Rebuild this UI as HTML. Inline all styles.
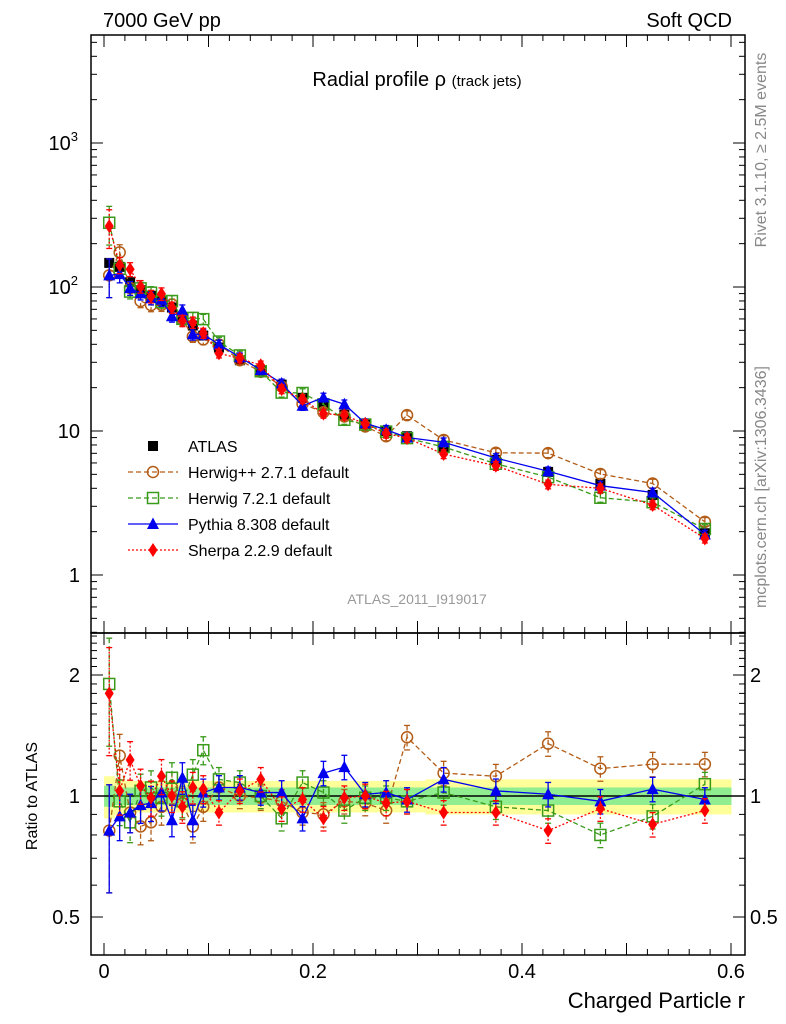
<!DOCTYPE html>
<html><head><meta charset="utf-8">
<style>
body{margin:0;background:#fff;}
svg{display:block;font-family:"Liberation Sans",sans-serif;}
</style></head>
<body>
<svg id="c" width="786" height="1024" xmlns="http://www.w3.org/2000/svg"></svg>
<script>
const binX=[0.005,0.015,0.025,0.035,0.045,0.055,0.065,0.075,0.085,0.095,0.11,0.13,0.15,0.17,0.19,0.21,0.23,0.25,0.27,0.29,0.325,0.375,0.425,0.475,0.525,0.575];
const atlas=[147,138,108,95,87,80,72,62,54,46,38,31,26,21,17,15,13,11.2,10,9.2,7.6,6.3,5.2,4.3,3.6,1.95];
const bandStat=[0.06,0.05,0.05,0.05,0.05,0.05,0.05,0.05,0.05,0.05,0.05,0.05,0.05,0.05,0.05,0.05,0.05,0.05,0.05,0.05,0.05,0.05,0.05,0.05,0.05,0.05];
const bandTot=[0.12,0.1,0.09,0.09,0.09,0.09,0.09,0.09,0.09,0.09,0.09,0.09,0.09,0.09,0.09,0.09,0.09,0.09,0.09,0.09,0.1,0.1,0.1,0.1,0.1,0.1];
const ratioHpp=[0.82,1.26,0.91,0.84,0.86,0.94,1.05,0.96,0.84,0.94,1.05,1.0,0.99,0.97,0.91,0.9,0.97,0.96,0.92,1.4,1.14,1.12,1.35,1.17,1.2,1.2];
const ratioH7=[1.9,0.97,0.86,1.03,1.05,0.99,1.11,0.97,1.13,1.3,1.1,1.08,1.0,0.88,1.08,1.02,0.92,0.99,0.99,0.97,1.02,0.94,0.92,0.8,0.89,1.07];
const ratioPy=[0.82,0.89,0.91,0.95,0.96,1.02,0.87,1.11,0.87,1.02,1.05,1.05,1.02,1.02,0.88,1.14,1.18,1.01,1.02,0.98,1.1,1.03,1.01,0.97,1.04,0.98];
const ratioSh=[1.8,1.03,1.23,1.06,0.99,1.12,1.0,0.94,1.05,1.04,0.91,1.03,1.1,0.93,0.98,0.88,0.99,1.0,0.96,0.97,0.91,0.91,0.82,0.93,0.85,0.92];
const errRel=[0.3,0.13,0.11,0.1,0.1,0.1,0.09,0.09,0.09,0.08,0.07,0.07,0.07,0.07,0.07,0.07,0.07,0.07,0.07,0.07,0.07,0.07,0.07,0.07,0.07,0.07];
const xTicks=[0,0.2,0.4,0.6];

const S=document.getElementById('c');
const NS='http://www.w3.org/2000/svg';
function el(t,a,p){const e=document.createElementNS(NS,t);for(const k in a)e.setAttribute(k,a[k]);(p||S).appendChild(e);return e;}
const L=91,R=745,T=35,M=633,B=955;
const X=v=>104+v*1045;
const Y=v=>287-144*Math.log10(v/100);
const YR=r=>796-121*Math.log2(r);

const defs=el('defs',{});
const c1=el('clipPath',{id:'cm'},defs);el('rect',{x:L,y:T,width:R-L,height:M-T},c1);
const c2=el('clipPath',{id:'cr'},defs);el('rect',{x:L,y:M,width:R-L,height:B-M},c2);

const gb=el('g',{'clip-path':'url(#cr)'});


function edges(i){const lo=i==0?0:(binX[i-1]+binX[i])/2;const hi=i==binX.length-1?0.6:(binX[i]+binX[i+1])/2;return [lo,hi];}
binX.forEach((x,i)=>{const [a,b]=edges(i);
 el('rect',{x:X(a),y:YR(1+bandTot[i]),width:X(b)-X(a)+0.5,height:YR(1-bandTot[i])-YR(1+bandTot[i]),fill:'#ffff99'},gb);});
binX.forEach((x,i)=>{const [a,b]=edges(i);
 el('rect',{x:X(a),y:YR(1+bandStat[i]),width:X(b)-X(a)+0.5,height:YR(1-bandStat[i])-YR(1+bandStat[i]),fill:'#90ee90'},gb);});
el('line',{x1:L,x2:R,y1:YR(1),y2:YR(1),stroke:'#000','stroke-width':1.5},gb);

const series=[
 {name:'herwigpp',r:ratioHpp,col:'#b35c16',dash:'5,3',m:'circle',lab:'Herwig++ 2.7.1 default'},
 {name:'herwig7',r:ratioH7,col:'#3a9a1a',dash:'5,3',m:'square',lab:'Herwig 7.2.1 default'},
 {name:'pythia',r:ratioPy,col:'#0000ee',dash:'',m:'tri',lab:'Pythia 8.308 default'},
 {name:'sherpa',r:ratioSh,col:'#ff0000',dash:'2,2',m:'diam',lab:'Sherpa 2.2.9 default'}];

function marker(g,m,x,y,col){
 if(m=='circle')el('circle',{cx:x,cy:y,r:5.5,fill:'none',stroke:col,'stroke-width':1.5},g);
 else if(m=='square')el('rect',{x:x-5.5,y:y-5.5,width:11,height:11,fill:'none',stroke:col,'stroke-width':1.5},g);
 else if(m=='tri')el('polygon',{points:`${x},${y-6.5} ${x-6},${y+5} ${x+6},${y+5}`,fill:col},g);
 else if(m=='diam')el('polygon',{points:`${x},${y-7} ${x-4.5},${y} ${x},${y+7} ${x+4.5},${y}`,fill:col},g);
 else if(m=='sq')el('rect',{x:x-5,y:y-5,width:10,height:10,fill:col},g);
}
function drawSeries(s,main){
 const g=el('g',{'clip-path':main?'url(#cm)':'url(#cr)'});
 
 
 const val=i=>main?atlas[i]*s.r[i]:s.r[i];
 const fy=main?Y:YR;
 const pts=binX.map((x,i)=>X(x)+','+fy(val(i))).join(' ');
 el('polyline',{points:pts,fill:'none',stroke:s.col,'stroke-width':1.3,'stroke-dasharray':s.dash},g);
 binX.forEach((x,i)=>{const v=val(i),e=errRel[i]*v;const px=X(x);
  el('line',{x1:px,x2:px,y1:fy(v+e),y2:fy(Math.max(v-e,0.01)),stroke:s.col,'stroke-width':1.3,'stroke-dasharray':s.dash},g);
  el('line',{x1:px-3,x2:px+3,y1:fy(v+e),y2:fy(v+e),stroke:s.col,'stroke-width':1.3},g);
  el('line',{x1:px-3,x2:px+3,y1:fy(Math.max(v-e,0.01)),y2:fy(Math.max(v-e,0.01)),stroke:s.col,'stroke-width':1.3},g);
  marker(g,s.m,px,fy(v),s.col);});
}
const ga=el('g',{'clip-path':'url(#cm)'});


binX.forEach((x,i)=>marker(ga,'sq',X(x),Y(atlas[i]),'#000'));
series.forEach(s=>{drawSeries(s,true);drawSeries(s,false);});

el('rect',{x:L,y:T,width:R-L,height:M-T,fill:'none',stroke:'#000','stroke-width':1.5});
el('rect',{x:L,y:M,width:R-L,height:B-M,fill:'none',stroke:'#000','stroke-width':1.5});

for(let d=-1;d<=3;d++)for(let k=1;k<10;k++){const v=k*Math.pow(10,d);const y=Y(v);if(y<T||y>M)continue;
 const len=k==1?12:6;
 el('line',{x1:L,x2:L+len,y1:y,y2:y,stroke:'#000'});el('line',{x1:R,x2:R-len,y1:y,y2:y,stroke:'#000'});}
function txt(s,x,y,a,sz,col,extra){const t=el('text',Object.assign({x:x,y:y,'text-anchor':a,'font-size':sz,fill:col||'#000'},extra||{}));t.textContent=s;return t;}
[[1000,'3'],[100,'2']].forEach(([v,e])=>{const t=txt('10',78,Y(v)+7,'end',20);
 const s=el('tspan',{dy:-9,'font-size':13},t);s.textContent=e;});
txt('10',80,Y(10)+7,'end',20);
txt('1',80,Y(1)+7,'end',20);
for(let r=0.4;r<=2.55;r+=0.1){const y=YR(r);if(y<M||y>B)continue;const maj=Math.abs(r-0.5)<1e-6||Math.abs(r-1)<1e-6||Math.abs(r-2)<1e-6;const len=maj?12:6;
 el('line',{x1:L,x2:L+len,y1:y,y2:y,stroke:'#000'});el('line',{x1:R,x2:R-len,y1:y,y2:y,stroke:'#000'});}
[[2,'2'],[1,'1'],[0.5,'0.5']].forEach(([r,s])=>{txt(s,80,YR(r)+7,'end',20);txt(s,750,YR(r)+7,'start',20);});
for(let i=0;i<=30;i++){const v=i*0.02;const x=X(v);if(x>R)continue;const maj=i%5==0;const len=maj?12:6;
 [T,M].forEach(y0=>el('line',{x1:x,x2:x,y1:y0,y2:y0+len,stroke:'#000'}));
 [M,B].forEach(y0=>el('line',{x1:x,x2:x,y1:y0,y2:y0-len,stroke:'#000'}));}
xTicks.forEach(v=>{const t=txt(String(v),X(v),978,'middle',20);});

txt('Charged Particle r',745,1008,'end',22);
txt('Ratio to ATLAS',37,796,'middle',16,'#000',{transform:'rotate(-90 37 796)'});
txt('7000 GeV pp',103,27,'start',20);
txt('Soft QCD',732,27,'end',20);
const tt=txt('Radial profile ',417,86,'middle',20);
const t2=el('tspan',{'font-size':20},tt);t2.textContent='ρ ';
const t3=el('tspan',{'font-size':15},tt);t3.textContent='(track jets)';
txt('ATLAS_2011_I919017',417,604,'middle',14,'#999');
txt('Rivet 3.1.10, ≥ 2.5M events',766,150,'middle',16,'#888',{transform:'rotate(-90 766 150)'});
txt('mcplots.cern.ch [arXiv:1306.3436]',766,487,'middle',16,'#888',{transform:'rotate(-90 766 487)'});

const lg=el('g',{});


marker(lg,'sq',153,446,'#000');txt('ATLAS',188,452,'start',16,'#000',{});
series.forEach((s,i)=>{const y=472+26*i;
 el('line',{x1:128,x2:178,y1:y,y2:y,stroke:s.col,'stroke-width':1.3,'stroke-dasharray':s.dash},lg);
 marker(lg,s.m,153,y,s.col);
 const t=txt(s.lab,188,y+6,'start',16);lg.appendChild(t);});
</script>
</body></html>
